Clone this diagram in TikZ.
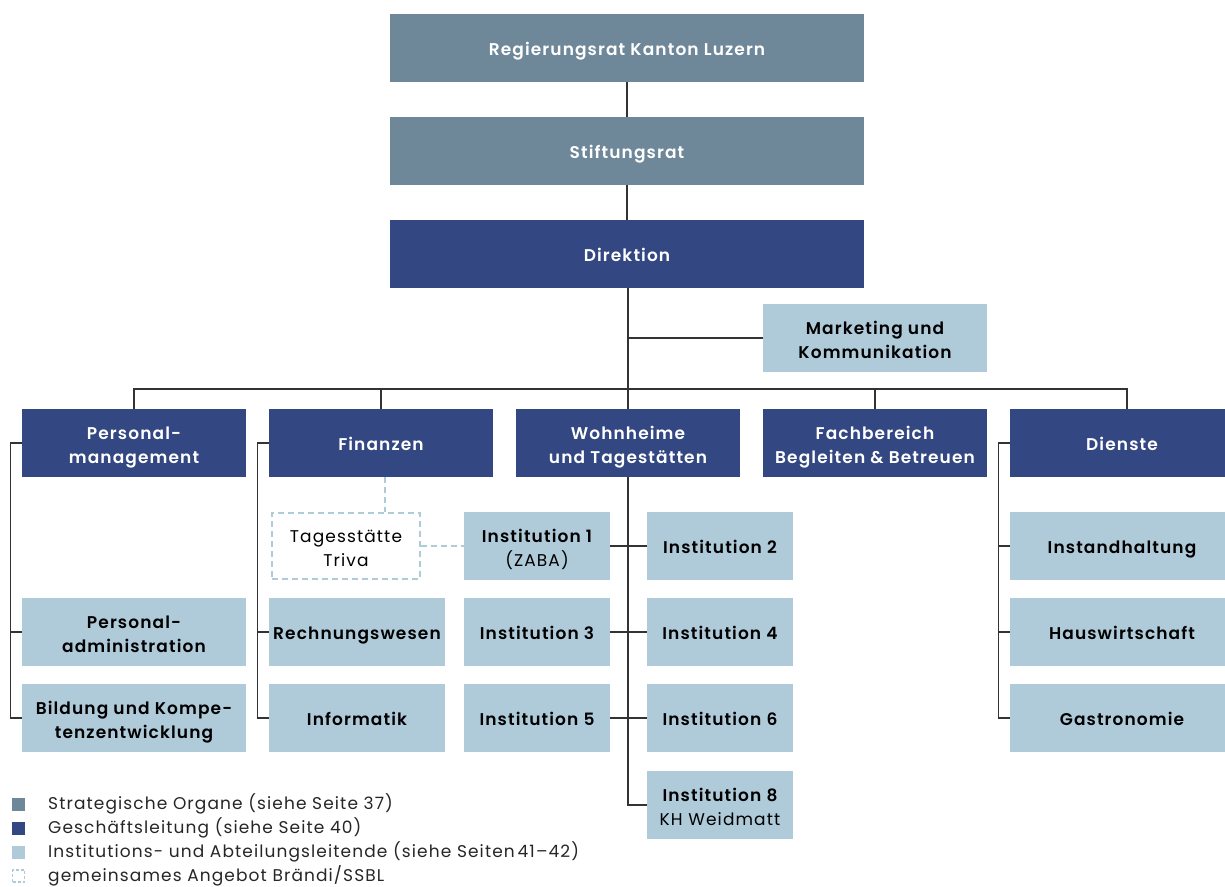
\documentclass[tikz,border=0pt]{standalone}
\usepackage{fontspec}
\setmainfont{Poppins}[LetterSpace=6.5]
\newfontfamily\medfont{Poppins}[UprightFont={* SemiBold}, LetterSpace=6.5]
\newfontfamily\regfont{Poppins}[LetterSpace=6.5]
\definecolor{strat}{HTML}{6E8899}
\definecolor{gl}{HTML}{334782}
\definecolor{inst}{HTML}{AFCAD9}
\definecolor{linec}{HTML}{333333}
\tikzset{
  base/.style={inner sep=0pt, align=center, font=\medfont\fontsize{17}{24}\selectfont,
    execute at begin node={\rule{0pt}{20pt}}, execute at end node={\rule[-5pt]{0pt}{5pt}}},
  ml/.style={execute at begin node={\rule{0pt}{45pt}}},
  sbox/.style={base, fill=strat, text=white, minimum width=474, minimum height=68},
  gbox/.style={base, fill=gl, text=white, minimum width=224, minimum height=68},
  ibox/.style={base, fill=inst, text=black, minimum height=68},
  tbox/.style={base, ml, draw=inst, line width=2pt, dash pattern=on 6pt off 4pt, minimum width=148, minimum height=66, font=\regfont\fontsize{17}{24}\selectfont},
  conn/.style={draw=linec, line width=1.3pt},
  dashconn/.style={draw=inst, line width=2pt, dash pattern=on 6pt off 4pt},
  legtext/.style={anchor=west, inner sep=0pt, font=\regfont\fontsize{17}{20}\selectfont, text=black!85},
}
\begin{document}
\begin{tikzpicture}[x=1pt,y=-1pt]
\useasboundingbox (0,0) rectangle (1225,886);
\clip (0,0) rectangle (1225,886);
% top
\node[sbox] (reg) at (627,48) {Regierungsrat Kanton Luzern};
\node[sbox] (stift) at (627,151) {Stiftungsrat};
\node[sbox, fill=gl] (dir) at (627,254) {Direktion};
\node[ibox, ml, minimum width=224] (mark) at (875,338) {Marketing und\\Kommunikation};
% row 2
\node[gbox, ml] (pm) at (134,443) {Personal-\\management};
\node[gbox] (fin) at (381,443) {Finanzen};
\node[gbox, ml] (wohn) at (628,443) {Wohnheime\\und Tagestätten};
\node[gbox, ml] (fach) at (875,443) {Fachbereich\\Begleiten \& Betreuen};
\node[gbox] (dien) at (1122,443) {Dienste};
\coordinate (dtop) at (1127,409);
% sub boxes
\node[ibox, ml, minimum width=224] (padm) at (134,632) {Personal-\\administration};
\node[ibox, ml, minimum width=224] (bild) at (134,718) {Bildung und Kompe-\\tenzentwicklung};
\node[ibox, minimum width=176] (rech) at (357,632) {Rechnungswesen};
\node[ibox, minimum width=176] (inf) at (357,718) {Informatik};
\node[tbox] (triva) at (346,546) {Tagesstätte\\Triva};
\node[ibox, ml, minimum width=146] (i1) at (537,546) {Institution 1\\{\regfont(ZABA)}};
\node[ibox, minimum width=146] (i2) at (720,546) {Institution 2};
\node[ibox, minimum width=146] (i3) at (537,632) {Institution 3};
\node[ibox, minimum width=146] (i4) at (720,632) {Institution 4};
\node[ibox, minimum width=146] (i5) at (537,718) {Institution 5};
\node[ibox, minimum width=146] (i6) at (720,718) {Institution 6};
\node[ibox, ml, minimum width=146] (i8) at (720,805) {Institution 8\\{\regfont KH Weidmatt}};
\node[ibox, minimum width=224] (instand) at (1122,546) {Instandhaltung};
\node[ibox, minimum width=224] (haus) at (1122,632) {Hauswirtschaft};
\node[ibox, minimum width=224] (gast) at (1122,718) {Gastronomie};
% connectors
\draw[conn] (reg.south) -- (stift.north);
\draw[conn] (stift.south) -- (dir.north);
\draw[conn] ([xshift=1]dir.south) -- ([xshift=1]dir.south |- wohn.north);
\coordinate (mk) at ([xshift=1]dir.south |- mark.west);
\draw[conn] (mk) -- (mark.west);
\coordinate (hl) at (0,389);
\draw[conn] (pm.north) -- (pm.north |- hl) -- (dtop |- hl) -- (dtop);
\draw[conn] (fin.north) -- (fin.north |- hl);
\draw[conn] (fach.north) -- (fach.north |- hl);
% brackets
\draw[conn] (pm.west) -- ([xshift=-11]pm.west) |- (bild.west);
\draw[conn] (padm.west) -- ([xshift=-11]padm.west);
\draw[conn] (fin.west) -- ([xshift=-11]fin.west) |- (inf.west);
\draw[conn] (rech.west) -- ([xshift=-11]rech.west);
\draw[conn] (dien.west) -- ([xshift=-11]dien.west) |- (gast.west);
\draw[conn] (instand.west) -- ([xshift=-11]instand.west);
\draw[conn] (haus.west) -- ([xshift=-11]haus.west);
\draw[conn] (wohn.south) |- (i8.west);
\draw[conn] (i1.east) -- (i2.west);
\draw[conn] (i3.east) -- (i4.west);
\draw[conn] (i5.east) -- (i6.west);
% dashed
\draw[dashconn] ([xshift=4]fin.south) -- ([xshift=4]fin.south |- triva.north);
\draw[dashconn] (triva.east) -- (i1.west);
% legend
\node[fill=strat, minimum size=13, inner sep=0pt] (l1) at (18.5,804) {};
\node[fill=gl, minimum size=13, inner sep=0pt] (l2) at (18.5,828) {};
\node[fill=inst, minimum size=13, inner sep=0pt] (l3) at (18.5,852) {};
\node[draw=inst, line width=1.3pt, dash pattern=on 3pt off 2pt, minimum size=12, inner sep=0pt] (l4) at (18.5,876) {};
\node[legtext] (t1) at (48,804) {Strategische Organe (siehe Seite 37)};
\node[legtext] (t2) at (48,828) {Geschäftsleitung (siehe Seite 40)};
\begin{scope}
\clip (0,840) rectangle (581,866);
\node[legtext] (t3) at (48,852) {Institutions- und Abteilungsleitende (siehe Seiten\,41–42)};
\end{scope}
\node[legtext] (t4) at (48,876) {gemeinsames Angebot Brändi/SSBL};
\end{tikzpicture}
\end{document}
